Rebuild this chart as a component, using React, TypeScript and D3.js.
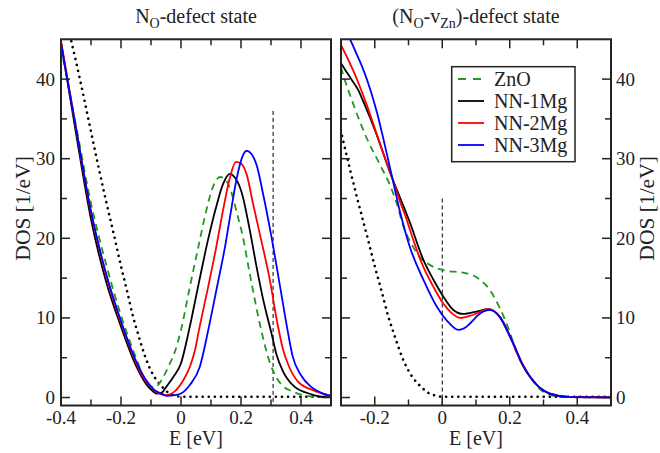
import React from "react";
import * as d3 from "d3";

type P = [number, number];

// ---------- data: left panel (N_O-defect state) ----------
const leftZnO: P[] = [[-0.4,44.0],[-0.35,34.2],[-0.3,24.4],[-0.25,16.8],[-0.2,10.3],[-0.15,5.0],[-0.126,2.7],[-0.103,1.4],[-0.09,1.3],[-0.076,1.6],[-0.06,2.5],[-0.042,3.9],[-0.02,5.8],[0,8.5],[0.03,14.0],[0.06,19.3],[0.08,22.8],[0.108,26.6],[0.13,27.7],[0.15,27.3],[0.163,26.3],[0.191,22.5],[0.202,20.9],[0.23,15.4],[0.263,9.2],[0.297,4.3],[0.32,2.4],[0.341,1.4],[0.37,0.8],[0.397,0.4],[0.45,0.1],[0.5,0.05]];
const leftNN1: P[] = [[-0.4,44.6],[-0.35,33.2],[-0.3,22.4],[-0.25,14.6],[-0.2,8.9],[-0.15,4.0],[-0.12,1.9],[-0.1,1.0],[-0.081,0.5],[-0.065,0.6],[-0.048,1.4],[-0.025,2.6],[0,4.3],[0.027,8.5],[0.06,14.5],[0.09,19.8],[0.119,24.2],[0.14,26.8],[0.163,28.1],[0.18,27.6],[0.202,25.8],[0.23,20.9],[0.25,16.8],[0.274,12.3],[0.302,8.0],[0.319,5.3],[0.34,3.3],[0.38,1.3],[0.419,0.6],[0.46,0.15],[0.5,0.05]];
const leftNN2: P[] = [[-0.4,44.8],[-0.35,33.8],[-0.3,23.2],[-0.25,15.4],[-0.2,9.4],[-0.15,4.4],[-0.12,2.2],[-0.09,0.9],[-0.07,0.45],[-0.05,0.3],[-0.02,0.8],[0.008,2.2],[0.03,3.9],[0.047,6.0],[0.06,8.5],[0.09,13.8],[0.118,19.0],[0.141,23.7],[0.163,27.6],[0.183,29.6],[0.2,29.4],[0.219,28.0],[0.241,24.2],[0.263,20.5],[0.297,14.6],[0.319,9.8],[0.339,6.2],[0.36,3.9],[0.39,2.0],[0.441,0.9],[0.5,0.2]];
const leftNN3: P[] = [[-0.4,44.5],[-0.35,33.8],[-0.3,23.4],[-0.25,15.6],[-0.2,9.6],[-0.15,4.6],[-0.12,2.4],[-0.09,1.0],[-0.06,0.4],[-0.048,0.2],[-0.02,0.3],[0,0.5],[0.03,1.6],[0.063,3.9],[0.091,8.5],[0.119,13.7],[0.147,19.0],[0.163,22.6],[0.186,27.6],[0.205,30.3],[0.219,31.0],[0.235,30.6],[0.252,29.2],[0.274,25.5],[0.3,20.5],[0.33,14.0],[0.355,8.5],[0.372,5.2],[0.4,2.8],[0.435,1.3],[0.474,0.5],[0.5,0.2]];

// ---------- data: right panel ((N_O-v_Zn)-defect state) ----------
const rightZnO: P[] = [[-0.3,41.5],[-0.298,41.2],[-0.263,36.8],[-0.224,32.6],[-0.184,29.2],[-0.155,26.7],[-0.135,24.4],[-0.115,21.5],[-0.086,18.9],[-0.066,17.6],[-0.046,16.9],[-0.02,16.3],[0.003,16.0],[0.072,15.6],[0.112,14.8],[0.141,13.5],[0.171,11.2],[0.195,8.8],[0.221,5.6],[0.26,2.6],[0.3,0.7],[0.36,0.05],[0.5,0.02]];
const rightNN1: P[] = [[-0.3,42.0],[-0.285,41.0],[-0.268,39.9],[-0.25,38.7],[-0.234,37.2],[-0.194,33.0],[-0.155,28.3],[-0.125,25.1],[-0.096,22.0],[-0.056,17.3],[-0.026,14.8],[0.003,12.7],[0.033,11.0],[0.062,10.5],[0.102,10.8],[0.136,11.1],[0.171,10.1],[0.205,7.3],[0.24,4.0],[0.28,1.6],[0.319,0.5],[0.38,0.05],[0.5,0.02]];
const rightNN2: P[] = [[-0.3,44.3],[-0.263,41.0],[-0.224,36.8],[-0.184,31.8],[-0.145,27.2],[-0.125,24.6],[-0.105,22.3],[-0.096,21.1],[-0.056,16.4],[-0.026,13.9],[0.003,11.8],[0.028,10.6],[0.053,10.0],[0.092,10.4],[0.136,11.1],[0.171,10.1],[0.205,7.2],[0.24,3.9],[0.28,1.6],[0.319,0.5],[0.38,0.05],[0.5,0.02]];
const rightNN3: P[] = [[-0.3,47.5],[-0.273,45.0],[-0.25,42.8],[-0.234,41.2],[-0.214,38.8],[-0.194,35.9],[-0.175,32.6],[-0.155,28.9],[-0.125,23.3],[-0.096,18.9],[-0.056,14.8],[-0.016,11.4],[0.013,9.7],[0.048,8.5],[0.065,8.7],[0.082,9.3],[0.105,10.3],[0.122,10.8],[0.141,11.0],[0.171,10.1],[0.205,7.3],[0.24,4.0],[0.28,1.6],[0.319,0.5],[0.38,0.05],[0.5,0.02]];

// bulk (dotted) DOS, shared by both panels
const bulkDOS: P[] = [[-0.38,47.0],[-0.35,42.2],[-0.32,37.0],[-0.3,33.4],[-0.273,28.6],[-0.25,24.7],[-0.224,20.5],[-0.2,16.5],[-0.18,13.4],[-0.16,10.2],[-0.148,8.6],[-0.137,7.2],[-0.12,5.2],[-0.103,3.6],[-0.087,2.5],[-0.064,1.4],[-0.042,0.6],[-0.02,0.25],[0,0.1],[0.1,0.1],[0.5,0.1]];

// Fermi level markers [E, top DOS]
const leftMarker: P = [0.307, 36.0];
const rightMarker: P = [0.0, 25.0];

const seriesNames = ["ZnO", "NN-1Mg", "NN-2Mg", "NN-3Mg"];
const seriesColors = ["#1f9a1f", "#000000", "#ff0000", "#0000ff"];
const leftDomain: [number, number] = [-0.4, 0.5];
const rightDomain: [number, number] = [-0.3, 0.5];
const yDomain: [number, number] = [-1, 45];
const xLabelTicks = [-0.4, -0.2, 0, 0.2, 0.4];
const yLabelTicks = [0, 10, 20, 30, 40];
const yMinorTicks = [5, 15, 25, 35];

const FONT = "Liberation Serif, Times New Roman, DejaVu Serif, serif";

const y = d3.scaleLinear().domain(yDomain).range([405.5, 39.3]);
const TOP = 39.3, BOT = 405.5;

function fmt(v: number) {
  const r = Math.round(v * 10) / 10;
  return r === 0 ? "0" : String(r);
}

function Panel({ x0, x1, domain, curves, marker, labelSide, id }: any) {
  const x = d3.scaleLinear().domain(domain).range([x0, x1]);
  const line = d3.line<P>().x(d => x(d[0])).y(d => y(d[1])).curve(d3.curveMonotoneX);
  const xt = d3.range(Math.round(domain[0] * 10), Math.round(domain[1] * 10) + 1).map(i => i / 10);
  const isMajorX = (v: number) => xLabelTicks.some(t => Math.abs(t - v) < 1e-6);
  const MAJ = 9, MIN = 6;
  return (
    <g>
      <defs>
        <clipPath id={id}><rect x={x0} y={TOP} width={x1 - x0} height={BOT - TOP} /></clipPath>
      </defs>
      <g clipPath={`url(#${id})`}>
        <path d={line(bulkDOS) || ""} fill="none" stroke="#000" strokeWidth={2.6} strokeDasharray="0.1 6" strokeLinecap="round" />
        <line x1={x(marker[0])} x2={x(marker[0])} y1={y(marker[1])} y2={BOT} stroke="#000" strokeWidth={1} strokeDasharray="4 3" />
        {curves.map((c: P[], i: number) => (
          <path key={i} d={line(c) || ""} fill="none" stroke={seriesColors[i]} strokeWidth={1.8}
            strokeDasharray={i === 0 ? "7 5" : undefined} />
        ))}
      </g>
      {xt.filter(v => v > domain[0] + 1e-6 && v < domain[1] - 1e-6).map(v => {
        const L = isMajorX(v) ? MAJ : MIN;
        return (
          <g key={"x" + v}>
            <line x1={x(v)} x2={x(v)} y1={BOT} y2={BOT - L} stroke="#222" strokeWidth={1.5} />
            <line x1={x(v)} x2={x(v)} y1={TOP} y2={TOP + L} stroke="#222" strokeWidth={1.5} />
          </g>
        );
      })}
      {[...yLabelTicks, ...yMinorTicks].map(v => {
        const L = yLabelTicks.includes(v) ? MAJ : MIN;
        return (
          <g key={"y" + v}>
            <line x1={x0} x2={x0 + L} y1={y(v)} y2={y(v)} stroke="#222" strokeWidth={1.5} />
            <line x1={x1} x2={x1 - L} y1={y(v)} y2={y(v)} stroke="#222" strokeWidth={1.5} />
          </g>
        );
      })}
      <rect x={x0} y={TOP} width={x1 - x0} height={BOT - TOP} fill="none" stroke="#222" strokeWidth={2} />
      {xLabelTicks.filter(v => v >= domain[0] - 1e-6 && v <= domain[1] + 1e-6).map(v => (
        <text key={"xl" + v} x={x(v)} y={424} textAnchor="middle" fontSize={19} style={{ fontFamily: FONT }} fill="#222">{fmt(v)}</text>
      ))}
      <text x={(x0 + x1) / 2} y={445} textAnchor="middle" fontSize={20} style={{ fontFamily: FONT }} fill="#222">E [eV]</text>
      {yLabelTicks.map(v => (
        <text key={"yl" + v} x={labelSide === "left" ? x0 - 6 : x1 + 5} y={y(v) + 6.5}
          textAnchor={labelSide === "left" ? "end" : "start"} fontSize={19} style={{ fontFamily: FONT }} fill="#222">{v}</text>
      ))}
      <text transform={`translate(${labelSide === "left" ? 30 : 654},${(TOP + BOT) / 2 - 14}) rotate(-90)`}
        textAnchor="middle" fontSize={21.5} style={{ fontFamily: FONT }} fill="#222">DOS [1/eV]</text>
    </g>
  );
}

export default function App() {
  const legendY = [79, 101, 123, 145];
  return (
    <svg width={660} height={453} style={{ position: "absolute", left: 0, top: 0, background: "#fff" }}>
      <rect width={660} height={453} fill="#fff" />
      <Panel id="clipL" x0={61} x1={331} domain={leftDomain} curves={[leftZnO, leftNN1, leftNN2, leftNN3]} marker={leftMarker} labelSide="left" />
      <Panel id="clipR" x0={341} x1={611} domain={rightDomain} curves={[rightZnO, rightNN1, rightNN2, rightNN3]} marker={rightMarker} labelSide="right" />
      <text x={196} y={23} textAnchor="middle" fontSize={20} style={{ fontFamily: FONT }} fill="#222">
        N<tspan fontSize={14} dy={5}>O</tspan><tspan dy={-5}>-defect state</tspan>
      </text>
      <text x={476} y={23} textAnchor="middle" fontSize={20} style={{ fontFamily: FONT }} fill="#222">
        (N<tspan fontSize={14} dy={5}>O</tspan><tspan dy={-5}>-v</tspan><tspan fontSize={14} dy={5}>Zn</tspan><tspan dy={-5}>)-defect state</tspan>
      </text>
      <rect x={451.7} y={66.7} width={123.3} height={95} fill="#fff" stroke="#222" strokeWidth={1.5} />
      {seriesNames.map((n, i) => (
        <g key={n}>
          <line x1={458} x2={484} y1={legendY[i]} y2={legendY[i]} stroke={seriesColors[i]} strokeWidth={1.8} strokeDasharray={i === 0 ? "8 7" : undefined} />
          <text x={494} y={legendY[i] + 6.5} fontSize={20} style={{ fontFamily: FONT }} fill="#222">{n}</text>
        </g>
      ))}
    </svg>
  );
}
